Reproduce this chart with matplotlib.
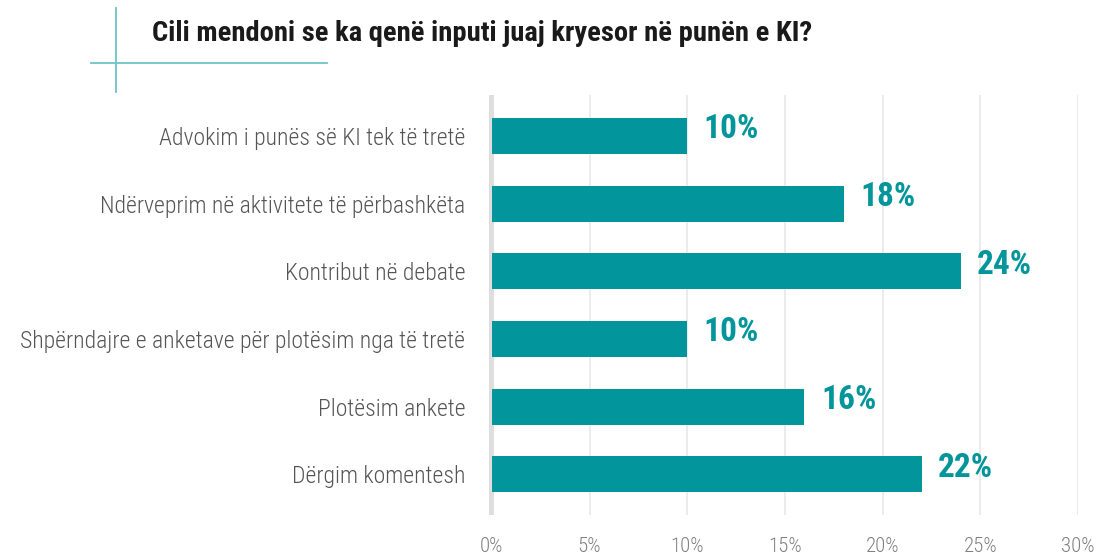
import matplotlib.pyplot as plt
from matplotlib.lines import Line2D

# Données
categories = [
    "Advokim i punës së KI tek të tretë",
    "Ndërveprim në aktivitete të përbashkëta",
    "Kontribut në debate",
    "Shpërndajre e anketave për plotësim nga të tretë",
    "Plotësim ankete",
    "Dërgim komentesh",
]
values = [10, 18, 24, 10, 16, 22]
ticks = [0, 5, 10, 15, 20, 25, 30]
tick_labels = [f"{t}%" for t in ticks]
title = "Cili mendoni se ka qenë inputi juaj kryesor në punën e KI?"

TEAL = "#02959b"
FONT = ["Roboto Condensed", "Liberation Sans", "DejaVu Sans"]

fig = plt.figure(figsize=(11.12, 5.58), dpi=100)
ax = fig.add_axes([0.4397, 0.077, 0.5297, 0.752])

y = list(range(len(categories)))
ax.barh(y, values, height=0.53, color=TEAL, zorder=3)
ax.set_ylim(len(categories) - 0.4, -0.6)
ax.set_xlim(-0.15, 30)

for yi, v in zip(y, values):
    ax.text(v + 0.85, yi - 0.1, f"{v}%", va="center", ha="left",
            fontsize=24, fontweight="bold", color=TEAL, family=FONT)

ax.set_yticks(y)
ax.set_yticklabels(categories, family=FONT, fontsize=17, fontweight=300,
                   color="#555555")
ax.set_xticks(ticks)
ax.set_xticklabels(tick_labels, family=FONT, fontsize=15, fontweight=300,
                   color="#808080")
ax.tick_params(axis="both", length=0)
ax.tick_params(axis="y", pad=17)
ax.tick_params(axis="x", pad=16)

ax.grid(axis="x", color="#e8e8e8", lw=1.2, zorder=0)
ax.axvline(-0.1, color="#dedede", lw=5, zorder=2)
for s in ax.spines.values():
    s.set_visible(False)

# titre et lignes décoratives
fig.text(0.137, 0.94, title, family=FONT, fontsize=20.5, fontweight="bold",
         color="#1a1a1a", va="center", ha="left")
fig.add_artist(Line2D([0.1043, 0.1043], [0.985, 0.835], color="#6fc3c6", lw=1.3))
fig.add_artist(Line2D([0.082, 0.294], [0.887, 0.887], color="#6fc3c6", lw=1.3))

fig.savefig("out.png", dpi=100, facecolor="white")
